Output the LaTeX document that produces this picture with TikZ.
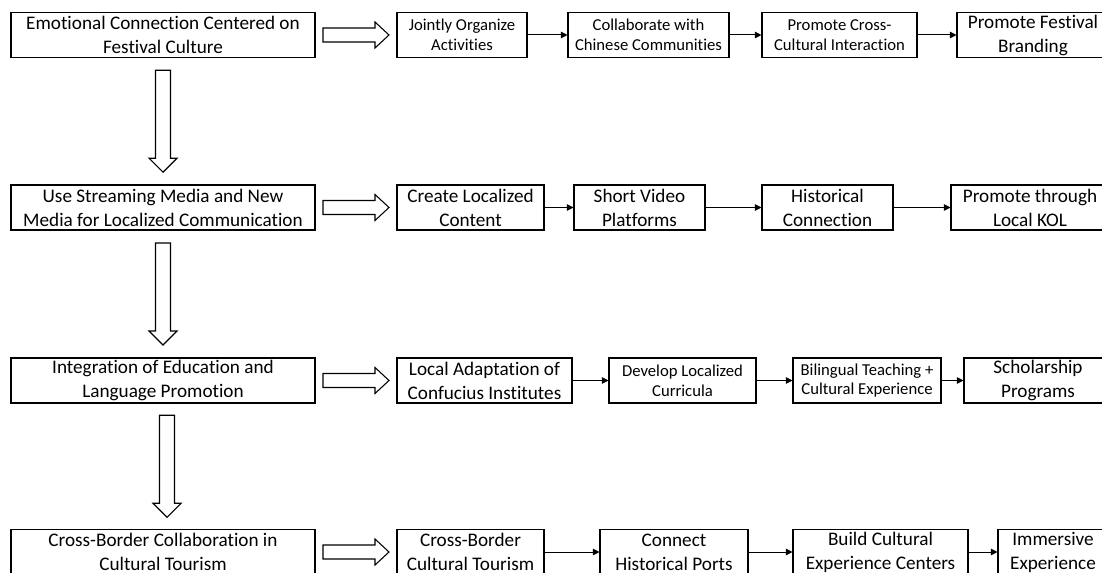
\documentclass[tikz,border=0pt]{standalone}
\usepackage{fontspec}
\setmainfont{Carlito}[Ligatures=NoCommon]
\usetikzlibrary{arrows.meta,calc}
\newcommand{\pxu}{0.75pt}
\newcommand{\harrow}[1]{% #1 = centre of a hollow arrow pointing right
  \begin{scope}[shift={#1}]
    \draw[line width=0.8pt] (-33,-7) -- (19,-7) -- (19,-13) -- (33,0) -- (19,13) -- (19,7) -- (-33,7) -- cycle;
  \end{scope}}
\newcommand{\varrow}[1]{% #1 = centre of a hollow arrow pointing down
  \begin{scope}[shift={#1}]
    \draw[line width=0.8pt] (-7.5,-51) -- (-7.5,37) -- (-14,37) -- (0,51) -- (14,37) -- (7.5,37) -- (7.5,-51) -- cycle;
  \end{scope}}

\begin{document}
\begin{tikzpicture}[
  x=0.75pt, y=-0.75pt,
  >={Triangle[length=5pt,width=5pt]},
  stage/.style={draw, line width=0.8pt, minimum height=45*\pxu, inner sep=1pt, align=center,
    font=\fontsize{14.4}{18}\selectfont},
  substep/.style={stage},
  smallstep/.style={stage, font=\fontsize{12.5}{14.8}\selectfont},
]
  \clip (0,0) rectangle (1102,573);

  % ---------------- main stages (left column)
  \node[stage, minimum width=304*\pxu] (emo) at (163,35)
    {Emotional Connection Centered on\\Festival Culture};
  \node[stage, minimum width=304*\pxu] (media) at (163,207.5)
    {Use Streaming Media and New\\Media for Localized Communication};
  \node[stage, minimum width=304*\pxu] (edu) at (163,380.5)
    {Integration of Education and\\Language Promotion};
  \node[stage, minimum width=304*\pxu] (tour) at (163,552)
    {Cross-Border Collaboration in\\Cultural Tourism};

  % ---------------- row 1: festival culture
  \node[smallstep, minimum width=130*\pxu] (jointly) at (462,35) {Jointly Organize\\Activities};
  \node[smallstep, minimum width=161*\pxu] (collab) at (648.5,35) {Collaborate with\\Chinese Communities};
  \node[smallstep, minimum width=155*\pxu] (crosscult) at (839.5,35) {Promote Cross-\\Cultural Interaction};
  \node[substep, minimum width=152*\pxu] (brand) at (1033,35) {Promote Festival\\Branding};

  % ---------------- row 2: new media
  \node[substep, minimum width=147*\pxu] (content) at (470.5,207.5) {Create Localized\\Content};
  \node[substep, minimum width=131*\pxu] (video) at (639.5,207.5) {Short Video\\Platforms};
  \node[substep, minimum width=131*\pxu] (history) at (827.5,207.5) {Historical\\Connection};
  \node[substep, minimum width=158*\pxu] (kol) at (1030,207.5) {Promote through\\Local KOL};

  % ---------------- row 3: education and language
  \node[substep, minimum width=175*\pxu] (confucius) at (484.5,380.5) {Local Adaptation of\\Confucius Institutes};
  \node[smallstep, minimum width=147*\pxu] (curricula) at (682.5,380.5) {Develop Localized\\Curricula};
  \node[smallstep, minimum width=148*\pxu] (bilingual) at (867,380.5) {Bilingual Teaching +\\Cultural Experience};
  \node[substep, minimum width=148*\pxu] (scholar) at (1038,380.5) {Scholarship\\Programs};

  % ---------------- row 4: cultural tourism
  \node[substep, minimum width=147*\pxu] (xborder) at (470.5,552) {Cross-Border\\Cultural Tourism};
  \node[substep, minimum width=148*\pxu] (ports) at (674,552) {Connect\\Historical Ports};
  \node[substep, minimum width=175*\pxu] (centers) at (880.5,552) {Build Cultural\\Experience Centers};
  \node[substep, minimum width=110*\pxu] (immersive) at (1053,552) {Immersive\\Experience};

  % ---------------- hollow block arrows
  \foreach \a/\b in {emo/jointly, media/content, edu/confucius, tour/xborder}
    {\harrow{($(\a.east)!0.5!(\b.west)$)}}
  \foreach \a/\b in {emo/media, media/edu}
    {\varrow{($(\a.south)!0.5!(\b.north)$)}}
  \varrow{($(edu.south)!0.5!(tour.north)+(4,0)$)}

  % ---------------- step connectors
  \foreach \a/\b in {jointly/collab, collab/crosscult, crosscult/brand,
                     content/video, video/history, history/kol,
                     confucius/curricula, curricula/bilingual, bilingual/scholar,
                     xborder/ports, ports/centers, centers/immersive}
    \draw[->, line width=0.75pt] (\a) -- (\b);
\end{tikzpicture}
\end{document}
